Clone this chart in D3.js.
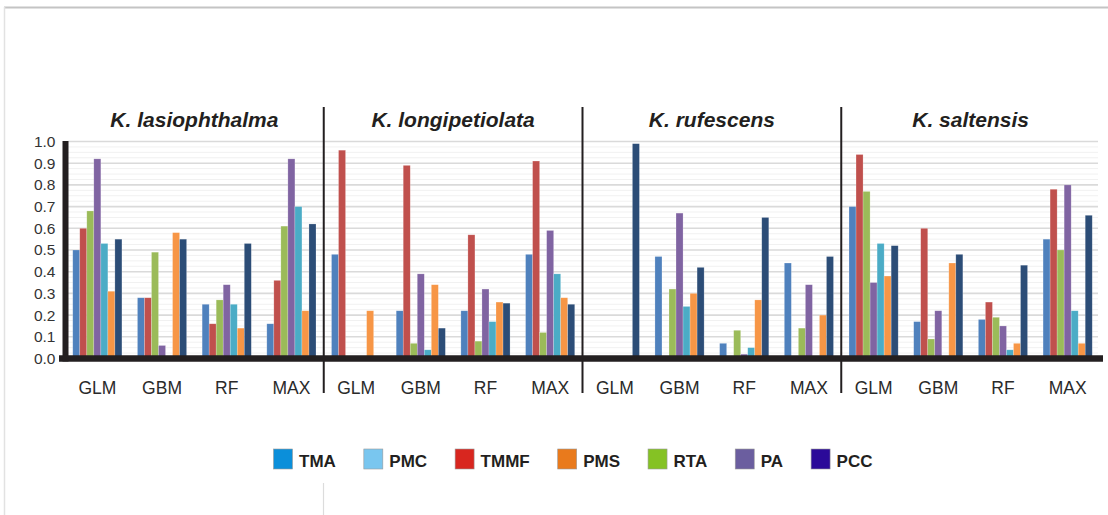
<!DOCTYPE html>
<html>
<head>
<meta charset="utf-8">
<script src="https://cdn.jsdelivr.net/npm/d3@7"></script>
<style>
  html, body { margin: 0; padding: 0; background: #ffffff; }
  svg { display: block; font-family: "Liberation Sans", Arial, Helvetica, sans-serif; }
</style>
</head>
<body>
<svg id="chart" width="1108" height="515"></svg>
<script>
// ---- data ----
const species = ["K. lasiophthalma", "K. longipetiolata", "K. rufescens", "K. saltensis"];
const models = ["GLM", "GBM", "RF", "MAX"];
const legendOrder = ["TMA", "PMC", "TMMF", "PMS", "RTA", "PA", "PCC"];
const barOrder = ["TMA", "TMMF", "RTA", "PA", "PMC", "PMS", "PCC"];
const yTicks = [0, 0.1, 0.2, 0.3, 0.4, 0.5, 0.6, 0.7, 0.8, 0.9, 1.0];

// values: per variable, 4 species x 4 models (GLM, GBM, RF, MAX)
const TMA  = [0.50, 0.28, 0.25, 0.16,  0.48, 0.22, 0.22, 0.48,  0.00, 0.47, 0.07, 0.44,  0.70, 0.17, 0.18, 0.55];
const TMMF = [0.60, 0.28, 0.16, 0.36,  0.96, 0.89, 0.57, 0.91,  0.00, 0.00, 0.005, 0.00, 0.94, 0.60, 0.26, 0.78];
const RTA  = [0.68, 0.49, 0.27, 0.61,  0.00, 0.07, 0.08, 0.12,  0.00, 0.32, 0.13, 0.14,  0.77, 0.09, 0.19, 0.50];
const PA   = [0.92, 0.06, 0.34, 0.92,  0.00, 0.39, 0.32, 0.59,  0.00, 0.67, 0.02, 0.34,  0.35, 0.22, 0.15, 0.80];
const PMC  = [0.53, 0.00, 0.25, 0.70,  0.00, 0.04, 0.17, 0.39,  0.00, 0.24, 0.05, 0.00,  0.53, 0.00, 0.04, 0.22];
const PMS  = [0.31, 0.58, 0.14, 0.22,  0.22, 0.34, 0.26, 0.28,  0.00, 0.30, 0.27, 0.20,  0.38, 0.44, 0.07, 0.07];
const PCC  = [0.55, 0.55, 0.53, 0.62,  0.00, 0.14, 0.255, 0.25, 0.99, 0.42, 0.65, 0.47,  0.52, 0.48, 0.43, 0.66];

const seriesValues = { TMA, TMMF, RTA, PA, PMC, PMS, PCC };

// ---- styles ----
const barColor = { TMA: "#4f81bd", TMMF: "#c0504d", RTA: "#9bbb59", PA: "#8064a2", PMC: "#4bacc6", PMS: "#f79646", PCC: "#2c4d77" };
const legendColor = { TMA: "#0b8fda", PMC: "#79c6ef", TMMF: "#d8261f", PMS: "#e97a1c", RTA: "#85c224", PA: "#6b5e9f", PCC: "#2b0a99" };
const ink = "#231f20";

const svg = d3.select("#chart");

// frame lines
svg.append("line").attr("x1", 4).attr("x2", 1108).attr("y1", 7.5).attr("y2", 7.5)
  .attr("stroke", "#c4c4c4").attr("stroke-width", 2);
svg.append("line").attr("x1", 4.5).attr("x2", 4.5).attr("y1", 7).attr("y2", 515)
  .attr("stroke", "#e2e2e2").attr("stroke-width", 1.5);

// scales
const xSpecies = d3.scaleBand().domain(species).range([65, 1100]);
const xModel = d3.scaleBand().domain(models).range([0, xSpecies.bandwidth()])
  .paddingInner(0.24).paddingOuter(0.12);
const xBar = d3.scaleBand().domain(barOrder).range([0, xModel.bandwidth()]);
const y = d3.scaleLinear().domain([0, 1]).range([358.5, 141.5]);

// gridlines (minor + major)
const gridG = svg.append("g");
const minor = d3.range(0, 20).map(i => i * 0.05 + 0.025).concat(d3.range(1, 20, 2).map(i => i * 0.05));
gridG.selectAll("line.minor").data(minor).join("line")
  .attr("x1", 68).attr("x2", 1098)
  .attr("y1", d => y(d)).attr("y2", d => y(d))
  .attr("stroke", "#f1f1f1").attr("stroke-width", 1);
gridG.selectAll("line.major").data(yTicks.slice(1)).join("line")
  .attr("x1", 68).attr("x2", 1098)
  .attr("y1", d => y(d)).attr("y2", d => y(d))
  .attr("stroke", "#dadada").attr("stroke-width", 1.6);

// bars
const barsData = [];
species.forEach((sp, si) => {
  models.forEach((m, mi) => {
    barOrder.forEach(v => {
      barsData.push({ sp, m, v, value: seriesValues[v][si * 4 + mi] });
    });
  });
});
svg.append("g").selectAll("rect").data(barsData.filter(d => d.value > 0)).join("rect")
  .attr("x", d => xSpecies(d.sp) + xModel(d.m) + xBar(d.v))
  .attr("width", xBar.bandwidth())
  .attr("y", d => y(d.value))
  .attr("height", d => y(0) - y(d.value))
  .attr("fill", d => barColor[d.v])
  .attr("stroke", "rgba(255,255,255,0.35)")
  .attr("stroke-width", 0.6);

// panel separators
svg.append("g").selectAll("line").data(species.slice(1)).join("line")
  .attr("x1", d => xSpecies(d)).attr("x2", d => xSpecies(d))
  .attr("y1", 107).attr("y2", 393)
  .attr("stroke", ink).attr("stroke-width", 2);

// baseline
svg.append("line").attr("x1", 59).attr("x2", 1103)
  .attr("y1", y(0)).attr("y2", y(0))
  .attr("stroke", ink).attr("stroke-width", 6.5);

// y axis
const yAxis = svg.append("g").attr("transform", "translate(65.5,0)")
  .call(d3.axisLeft(y).tickValues(yTicks).tickFormat(d3.format(".1f")).tickSize(0).tickPadding(10));
yAxis.select(".domain").attr("stroke", ink).attr("stroke-width", 6)
  .attr("d", `M0,${y(1) - 0.5}V${y(0) + 3}`);
yAxis.selectAll("text").attr("font-size", 15.5).attr("fill", "#333333")
  .attr("font-family", "'Liberation Sans', Arial, sans-serif");

// x axes per panel
species.forEach(sp => {
  const g = svg.append("g").attr("transform", `translate(${xSpecies(sp)},${y(0)})`)
    .call(d3.axisBottom(xModel).tickSize(0).tickPadding(23));
  g.select(".domain").remove();
  g.selectAll("text").attr("font-size", 17.5).attr("fill", "#2a2a2a")
    .attr("font-family", "'Liberation Sans', Arial, sans-serif");
});

// panel titles
svg.append("g").selectAll("text").data(species).join("text")
  .attr("x", d => xSpecies(d) + xSpecies.bandwidth() / 2)
  .attr("y", 127)
  .attr("text-anchor", "middle")
  .attr("font-size", 21).attr("font-weight", "bold").attr("font-style", "italic")
  .attr("fill", ink)
  .text(d => d);

// legend
const legend = svg.append("g");
let lx = 273.5;
legendOrder.forEach(v => {
  legend.append("rect").attr("x", lx).attr("y", 449).attr("width", 19).attr("height", 20)
    .attr("fill", legendColor[v]).attr("stroke", "#9a9a9a").attr("stroke-width", 0.6);
  const t = legend.append("text").attr("x", lx + 25.5).attr("y", 466.5)
    .attr("font-size", 17).attr("font-weight", "bold").attr("fill", ink)
    .attr("font-family", "'Liberation Sans', Arial, sans-serif")
    .text(v);
  lx += 25.5 + t.node().getComputedTextLength() + 28;
});

// faint line below legend
svg.append("line").attr("x1", 323.5).attr("x2", 323.5).attr("y1", 483).attr("y2", 515)
  .attr("stroke", "#dcdcdc").attr("stroke-width", 1.2);
</script>
</body>
</html>
